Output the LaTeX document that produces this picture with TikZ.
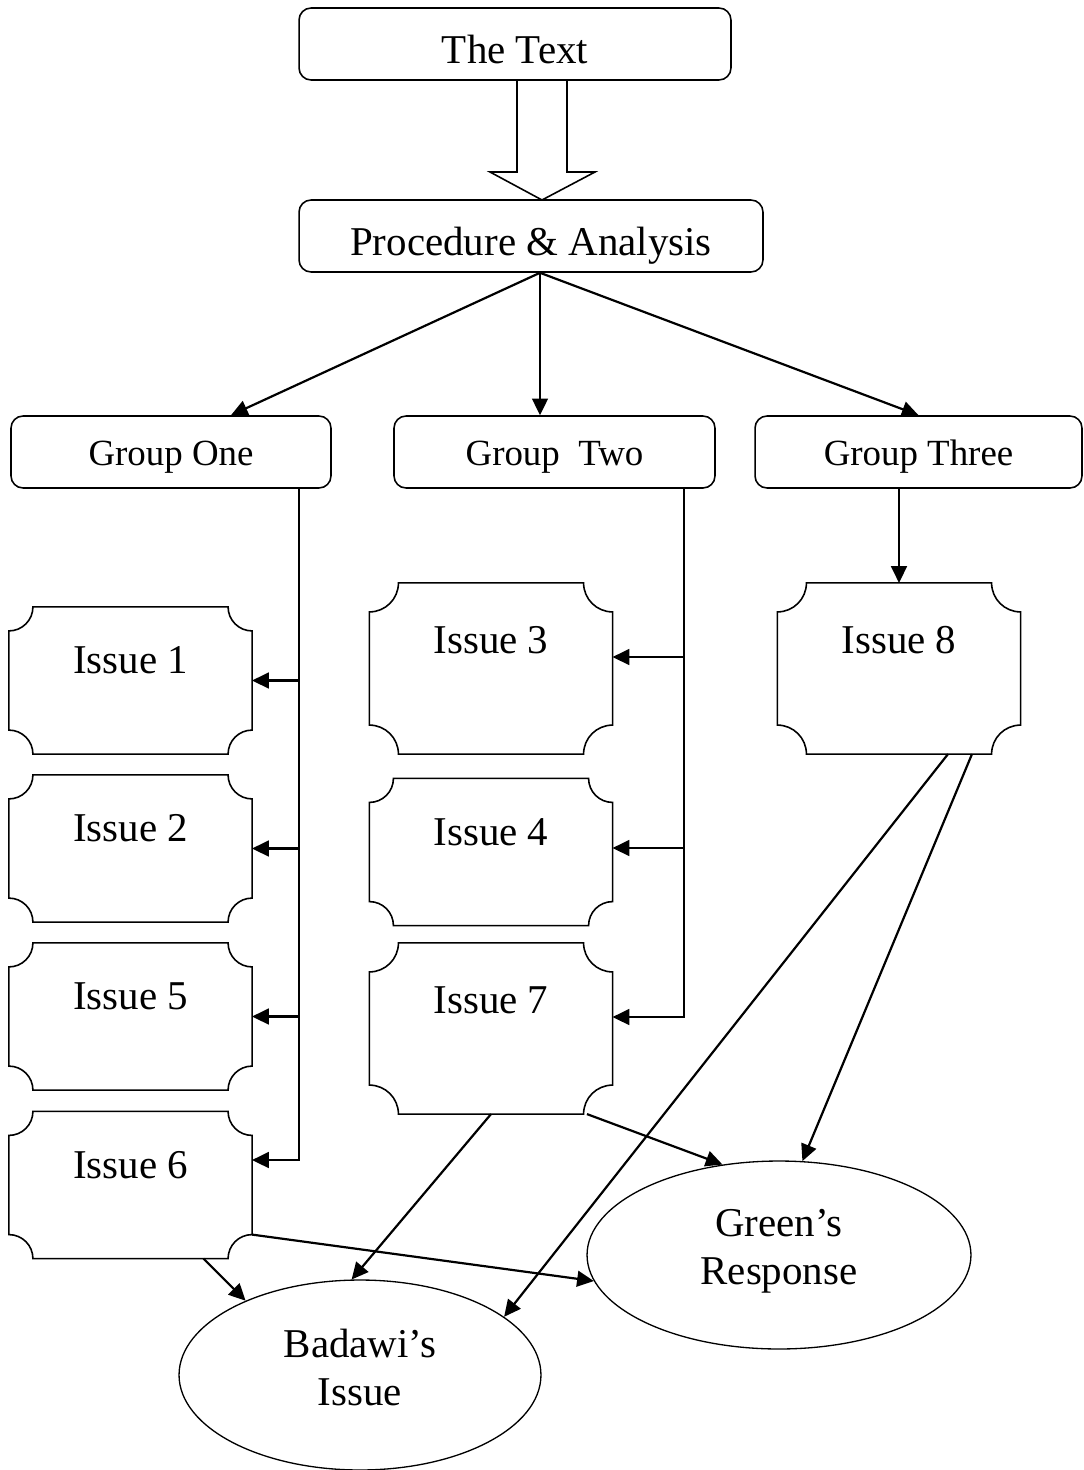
\documentclass[tikz,border=0pt]{standalone}
\usepackage{fontspec}
\setmainfont{Liberation Serif}
\usetikzlibrary{arrows.meta,shapes.geometric}
% box with concave corners, #1 node name, #2 corner radius
\newcommand\plaque[2]{%
    \draw [frame] ([xshift = #2]#1.north west) -- ([xshift = -#2]#1.north east)
        arc [start angle = 180, end angle = 270, radius = #2]
        -- ([yshift = #2]#1.south east)
        arc [start angle = 90, end angle = 180, radius = #2]
        -- ([xshift = #2]#1.south west)
        arc [start angle = 0, end angle = 90, radius = #2]
        -- ([yshift = -#2]#1.north west)
        arc [start angle = 270, end angle = 360, radius = #2] -- cycle;
}

\begin{document}
\begin{tikzpicture}[
    x = 0.02cm, y = -0.02cm, line width = 1.25pt,
    >={Triangle[length = 9.5pt, width = 9pt]},
    font = \fontsize{23.3}{27.5}\selectfont,
    frame/.style = {line width = .9pt},
    rbox/.style = {draw, frame, rounded corners = .24cm, minimum height = 1.44cm, text height = .82cm, text depth = .04cm},
    grp/.style = {rbox, minimum width = 6.4cm, text height = .56cm, font = \fontsize{21}{25}\selectfont},
    plq/.style = {minimum width = 4.82cm, minimum height = 2.9cm, text height = .6cm, text depth = .88cm},
    tallplq/.style = {plq, minimum height = 3.38cm, text depth = 1.22cm},
    oval/.style = {ellipse, draw, line width = .75pt, inner sep = 0pt, align = center, text depth = .32cm}
    ]
\useasboundingbox (0, 0) rectangle (1083, 1470);

    \node (text) at (515, 44)  [rbox, minimum width = 8.64cm] {The Text};
    \node (proc) at (531, 236) [rbox, minimum width = 9.28cm] {Procedure \& Analysis};

    % hollow arrow between the two top boxes
    \draw [frame] (517, 80) -- (517, 172) -- (490, 172) -- (542, 200) -- (595, 172) -- (567, 172) -- (567, 80);

    \node (g1) at (171, 452)   [grp]                        {Group One};
    \node (g2) at (554.5, 452) [grp, minimum width = 6.42cm] {Group\ \ Two};
    \node (g3) at (918.5, 452) [grp, minimum width = 6.54cm] {Group Three};

    \node (i1) at (130.5, 680.5)  [plq]     {Issue 1};
    \node (i2) at (130.5, 848.5)  [plq]     {Issue 2};
    \node (i5) at (130.5, 1016.5) [plq]     {Issue 5};
    \node (i6) at (130.5, 1185)   [plq]     {Issue 6};
    \node (i3) at (491, 668.5)    [tallplq] {Issue 3};
    \node (i4) at (491, 852)      [plq]     {Issue 4};
    \node (i7) at (491, 1028.5)   [tallplq] {Issue 7};
    \node (i8) at (899, 668.5)    [tallplq] {Issue 8};

    \foreach \n in {i1, i2, i5, i6, i4}{
        \plaque{\n}{.48cm}
        }
    \foreach \n in {i3, i7, i8}{
        \plaque{\n}{.58cm}
        }

    \node (badawi) at (360, 1375) [oval, minimum width = 7.24cm, minimum height = 3.8cm]  {Badawi’s\\Issue};
    \node (green)  at (779, 1255) [oval, minimum width = 7.68cm, minimum height = 3.76cm] {Green’s\\Response};

    % from the analysis to the groups
    \coordinate (fork) at ([xshift = .18cm]proc.south);
    \draw [->] (fork) -- ([xshift = 1.2cm]g1.north);
    \draw [->] (fork) -- (g2.north -| fork);
    \draw [->] (fork) -- (g3.north);

    % group rails
    \draw [->] ([xshift = -.66cm]g1.south east) coordinate (r1) |- ([yshift = .5cm]i6.east);
    \foreach \n in {i1, i2, i5}{
        \draw [->] (r1 |- \n.east) -- (\n.east);
        }
    \draw [->] ([xshift = -.64cm]g2.south east) coordinate (r2) |- ([yshift = .23cm]i7.east);
    \foreach \n/\s in {i3/.23cm, i4/.08cm}{
        \coordinate (tip) at ([yshift = \s]\n.east);
        \draw [->] (r2 |- tip) -- (tip);
        }
    \draw [->] (g3.south -| i8.north) -- (i8.north);

    % to the two readings
    \draw [->] (i7.south) -- (badawi.95);
    \draw [->] ([xshift = 1.92cm]i7.south) -- (green.122);
    \draw [->] ([xshift = .98cm]i8.south) -- (badawi.22);
    \draw [->] ([xshift = 1.46cm]i8.south) -- (green.76);
    \draw [->] ([xshift = 1.46cm]i6.south) -- (badawi.147);
    \draw [->] ([yshift = .48cm]i6.south east) -- (green.188);
\end{tikzpicture}
\end{document}
